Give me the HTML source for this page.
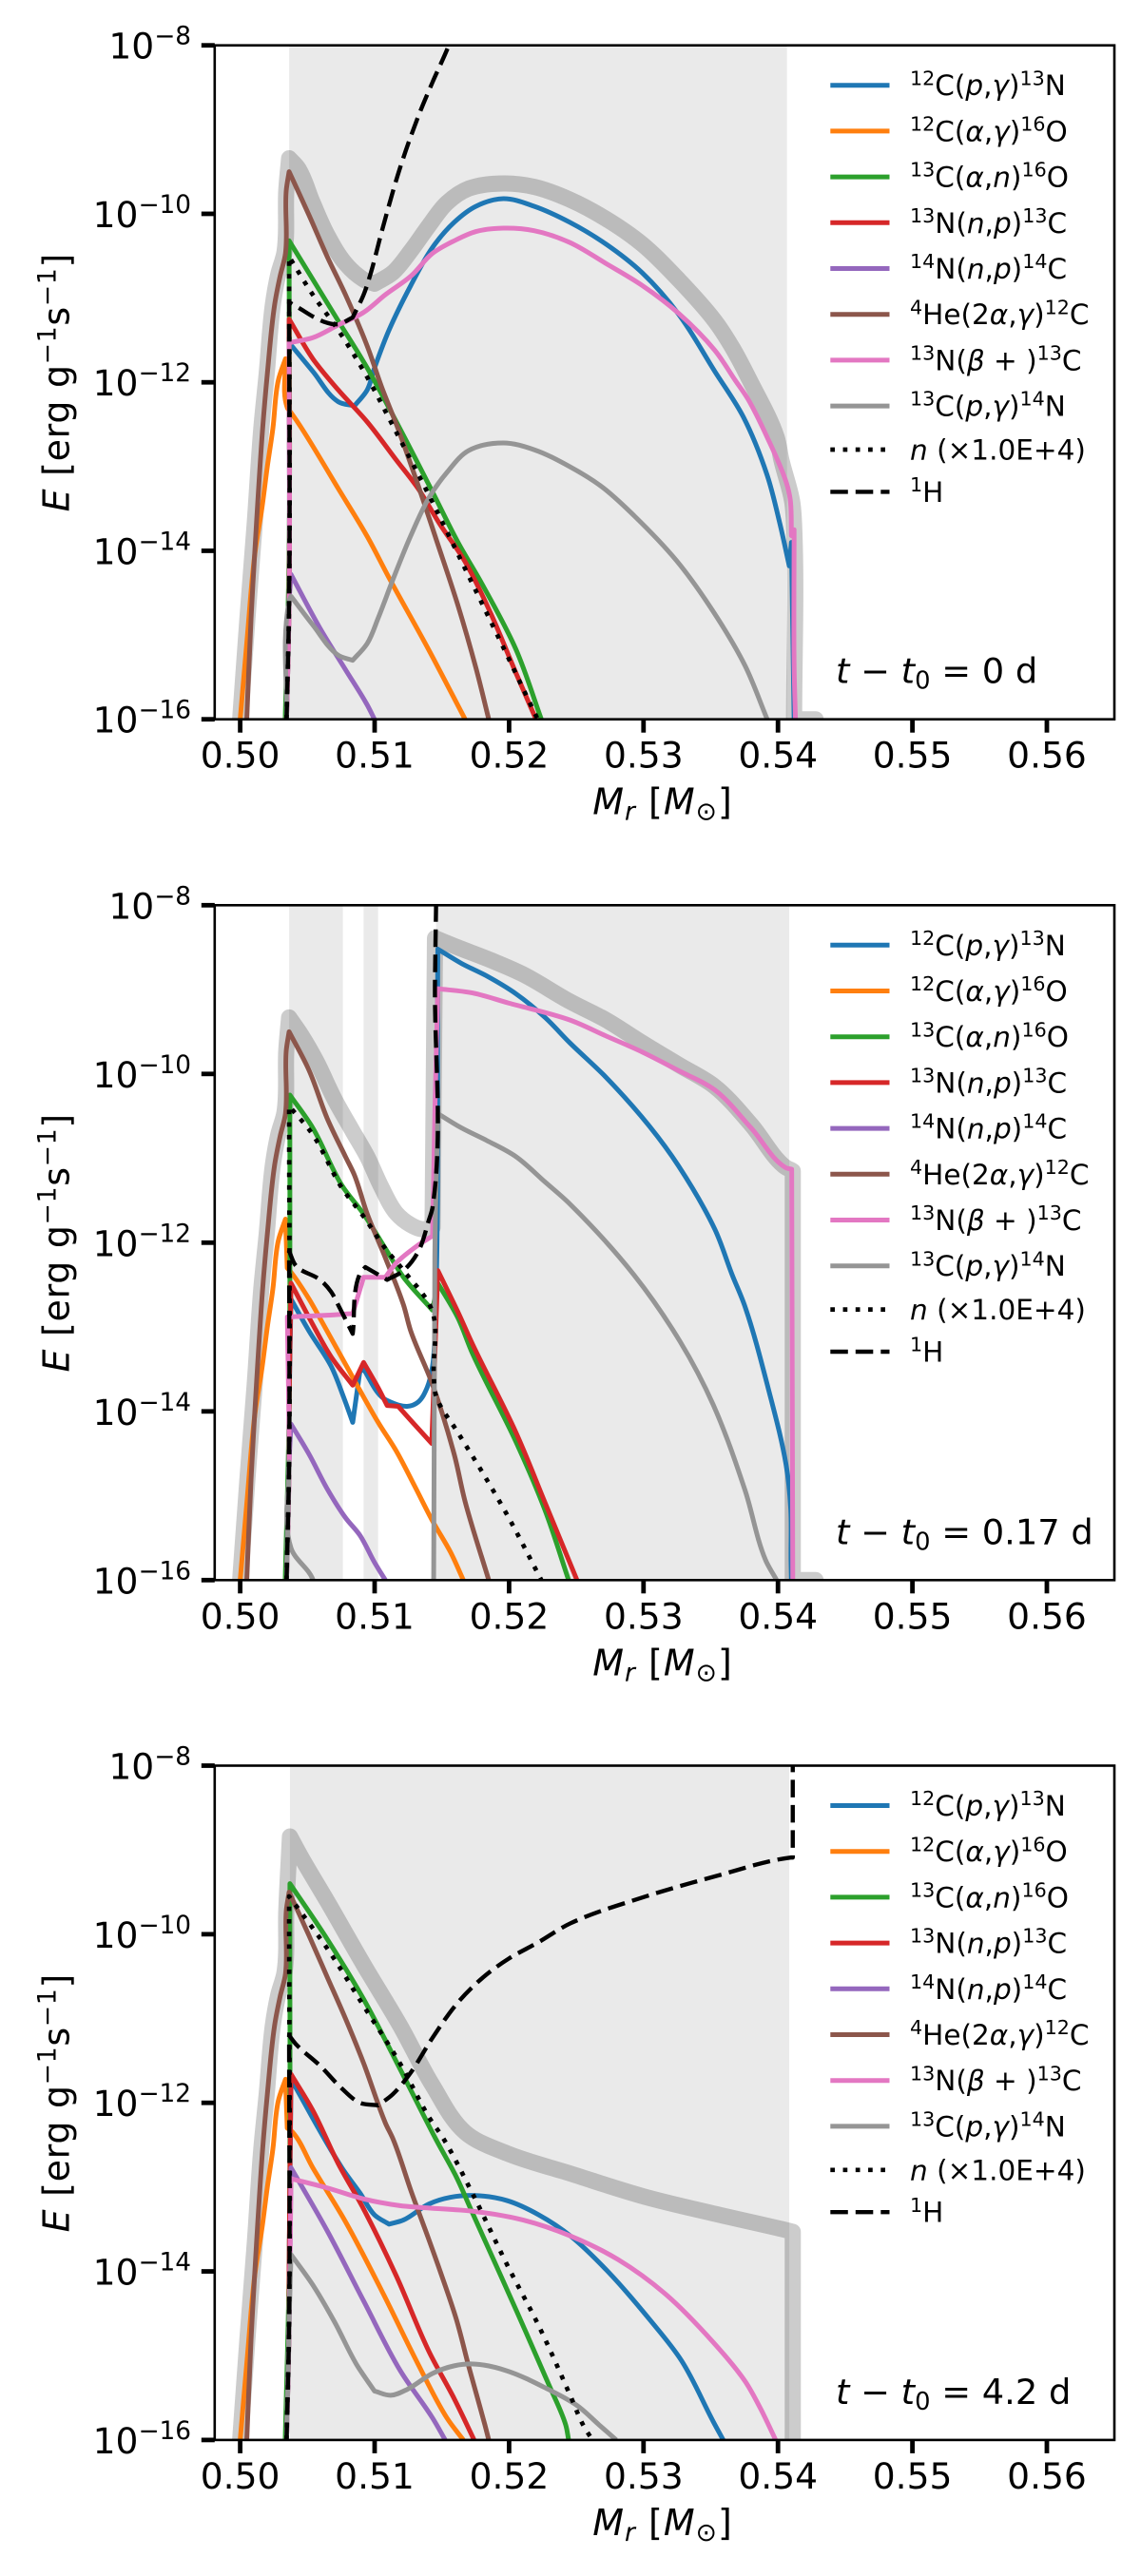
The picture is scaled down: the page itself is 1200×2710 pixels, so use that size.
<!DOCTYPE html>
<html lang="en">
<head>
<meta charset="utf-8">
<title>Nuclear energy generation profiles</title>
<style>
html,body{margin:0;padding:0;background:#fff;width:1200px;height:2710px;overflow:hidden}
svg{display:block}
text{font-family:"DejaVu Sans","Liberation Sans",sans-serif;fill:#000;white-space:pre}
</style>
</head>
<body>
<svg id="figure" xmlns="http://www.w3.org/2000/svg" width="1200" height="2710" viewBox="0 0 1200 2710"></svg>
<script>
// Axis tick values and labels
const massTicks = [0.50, 0.51, 0.52, 0.53, 0.54, 0.55, 0.56];
const massTickLabels = ['0.50', '0.51', '0.52', '0.53', '0.54', '0.55', '0.56'];
const logTicks = [-8, -10, -12, -14, -16];
const logTickLabels = ['\u22128', '\u221210', '\u221212', '\u221214', '\u221216'];
const timeLabels = ['0', '0.17', '4.2'];

// Shared rise on the inner side of the shell: [M_r, log10 E]
const totalRise = [[0.5,-16],[0.50054,-14.8],[0.50108,-13.68],[0.50157,-12.55],[0.50197,-11.9],[0.50243,-11.08],[0.50283,-10.72],[0.5033,-10.45],[0.50343,-9.72]];
const brownRise = [[0.50049,-16],[0.50081,-14.8],[0.50121,-13.68],[0.50167,-12.55],[0.50202,-11.9],[0.50256,-11.08],[0.50297,-10.74],[0.50337,-10.47],[0.50343,-9.72]];
const orangeRise = [[0.5,-16],[0.50054,-15],[0.50108,-14.05],[0.50162,-13.49],[0.50202,-13],[0.50243,-12.55],[0.50283,-11.98],[0.50337,-11.72],[0.5035,-12.3]];
const spikeBase = [[0.50345,-16],[0.50364,-14.6]];

// Panel 1 (t - t0 = 0 d)
const shade1 = [[0.50364,0.54067]];
const total1 = [[0.50364,-9.34],[0.50432,-9.46],[0.5054,-9.87],[0.50648,-10.25],[0.50783,-10.59],[0.50918,-10.78],[0.50999,-10.83],[0.51134,-10.7],[0.51269,-10.44],[0.51404,-10.14],[0.51538,-9.87],[0.517,-9.7],[0.51957,-9.64],[0.52186,-9.68],[0.5245,-9.83],[0.52721,-10.06],[0.5299,-10.36],[0.5326,-10.78],[0.5353,-11.27],[0.53665,-11.6],[0.5379,-11.976],[0.5399,-12.65],[0.54025,-12.92],[0.54105,-13.41],[0.5412,-13.7],[0.5412,-16],[0.5428,-16],[0.5434,-16.6]];
const blue1 = [[0.50364,-11.53],[0.5054,-11.87],[0.50729,-12.23],[0.5085,-12.28],[0.50945,-12.09],[0.50999,-11.83],[0.51107,-11.38],[0.51269,-10.85],[0.5143,-10.4],[0.51592,-10.1],[0.51754,-9.91],[0.51957,-9.82],[0.52186,-9.91],[0.52451,-10.1],[0.52721,-10.36],[0.5299,-10.7],[0.5326,-11.19],[0.5353,-11.87],[0.53742,-12.41],[0.53919,-13.1],[0.54013,-13.67],[0.54084,-14.18],[0.541,-13.9],[0.5412,-16]];
const orange1 = [[0.50378,-12.36],[0.50459,-12.55],[0.50729,-13.26],[0.50945,-13.83],[0.51107,-14.32],[0.51404,-15.18],[0.51673,-16]];
const green1 = [[0.50335,-16],[0.50364,-14],[0.50364,-10.32],[0.50729,-11.27],[0.50945,-11.83],[0.51188,-12.55],[0.5143,-13.3],[0.5162,-13.9],[0.51808,-14.42],[0.52051,-15.17],[0.5224,-16]];
const red1 = [[0.50364,-11.25],[0.5054,-11.72],[0.50729,-12.09],[0.50945,-12.47],[0.5116,-12.92],[0.51323,-13.26],[0.51484,-13.68],[0.51673,-14.13],[0.5186,-14.73],[0.52051,-15.45],[0.522,-16]];
const purple1 = [[0.50378,-14.28],[0.50594,-14.92],[0.50783,-15.41],[0.50945,-15.83],[0.50999,-16]];
const brown1 = [[0.50364,-9.5],[0.50513,-10.02],[0.50648,-10.51],[0.50783,-10.96],[0.50945,-11.57],[0.51053,-12.06],[0.51174,-12.55],[0.51323,-13.22],[0.51457,-13.86],[0.5162,-14.65],[0.51755,-15.4],[0.51849,-16]];
const pink1 = [[0.50364,-11.53],[0.5054,-11.47],[0.50729,-11.32],[0.50918,-11.17],[0.5108,-10.96],[0.51269,-10.74],[0.5143,-10.47],[0.51592,-10.32],[0.51754,-10.21],[0.51957,-10.17],[0.52186,-10.2],[0.52451,-10.34],[0.52721,-10.59],[0.5299,-10.85],[0.5326,-11.18],[0.5353,-11.62],[0.53682,-11.976],[0.53777,-12.2],[0.53919,-12.65],[0.5406,-13.18],[0.54091,-13.39],[0.541,-13.82],[0.5412,-13.75],[0.5412,-15.36],[0.5413,-16]];
const gray1 = [[0.50378,-14.54],[0.5054,-14.88],[0.50729,-15.24],[0.50837,-15.3],[0.50945,-15.1],[0.51026,-14.8],[0.51134,-14.35],[0.51269,-13.82],[0.51404,-13.37],[0.51538,-13.07],[0.517,-12.81],[0.51957,-12.72],[0.52186,-12.8],[0.5245,-13],[0.5269,-13.24],[0.52928,-13.58],[0.53247,-14.12],[0.53518,-14.72],[0.53754,-15.36],[0.5392,-16]];
const neutron1 = [[0.50364,-10.51],[0.5054,-10.96],[0.50729,-11.38],[0.50945,-11.94],[0.51134,-12.51],[0.51404,-13.34],[0.51565,-13.86],[0.51727,-14.39],[0.51943,-15.1],[0.52213,-16]];
const hydrogen1 = [[0.50364,-11.05],[0.50418,-11.1],[0.50621,-11.28],[0.50729,-11.31],[0.50837,-11.23],[0.50918,-10.96],[0.50972,-10.7],[0.51053,-10.21],[0.51188,-9.46],[0.51323,-8.85],[0.5143,-8.44],[0.51552,-8],[0.5162,-7.7]];

// Panel 2 (t - t0 = 0.17 d)
const shade2 = [[0.50364,0.50764],[0.50918,0.51026],[0.51457,0.54084]];
const total2 = [[0.50364,-9.33],[0.50459,-9.55],[0.50567,-9.85],[0.50702,-10.3],[0.50837,-10.68],[0.50945,-10.98],[0.51053,-11.35],[0.51161,-11.65],[0.51269,-11.79],[0.5135,-11.84],[0.51431,-11.82],[0.51449,-8.39],[0.51619,-8.5],[0.51862,-8.65],[0.52105,-8.82],[0.52451,-9.14],[0.52721,-9.36],[0.5299,-9.63],[0.5326,-9.89],[0.5353,-10.15],[0.538,-10.6],[0.54043,-11.09],[0.5411,-11.15],[0.5411,-16],[0.5428,-16],[0.5434,-16.6]];
const blue2 = [[0.50364,-14],[0.50378,-12.67],[0.50513,-13.05],[0.50675,-13.46],[0.50769,-13.83],[0.50837,-14.13],[0.5089,-13.53],[0.50918,-13.5],[0.51053,-13.83],[0.5112,-13.89],[0.51242,-13.94],[0.51323,-13.89],[0.5139,-13.72],[0.51431,-13.46],[0.51449,-13],[0.5147,-8.52],[0.51646,-8.69],[0.51835,-8.84],[0.52051,-9.05],[0.52267,-9.33],[0.52451,-9.63],[0.52721,-10.04],[0.53044,-10.62],[0.5326,-11.09],[0.5353,-11.84],[0.53659,-12.38],[0.53753,-12.75],[0.53928,-13.73],[0.5406,-14.63],[0.54095,-15.16],[0.54097,-15.76],[0.541,-16]];
const orange2 = [[0.50378,-12.35],[0.50513,-12.67],[0.50567,-12.82],[0.50783,-13.44],[0.51026,-14.13],[0.51161,-14.47],[0.51296,-14.88],[0.51431,-15.3],[0.51565,-15.67],[0.5166,-16]];
const green2 = [[0.50335,-16],[0.50364,-14],[0.5037,-10.25],[0.5054,-10.64],[0.50756,-11.32],[0.50918,-11.66],[0.5108,-12.07],[0.51215,-12.41],[0.5143,-12.8],[0.5147,-12.48],[0.51619,-12.89],[0.51727,-13.31],[0.52051,-14.36],[0.52267,-15.17],[0.52443,-16]];
const red2 = [[0.50364,-14],[0.50378,-12.48],[0.5054,-12.97],[0.50675,-13.35],[0.50837,-13.69],[0.50918,-13.42],[0.51026,-13.72],[0.51093,-13.93],[0.51175,-13.94],[0.51282,-14.13],[0.51425,-14.38],[0.5147,-12.33],[0.51619,-12.82],[0.51727,-13.2],[0.52051,-14.25],[0.52267,-15.08],[0.52451,-15.79],[0.52505,-16]];
const purple2 = [[0.50378,-14.15],[0.50513,-14.51],[0.50648,-14.92],[0.50783,-15.26],[0.50891,-15.47],[0.50999,-15.79],[0.5108,-16]];
const brown2 = [[0.50364,-9.5],[0.50513,-9.96],[0.50648,-10.53],[0.50783,-10.98],[0.5085,-11.2],[0.50945,-11.66],[0.5108,-12.18],[0.51215,-12.74],[0.51269,-13.05],[0.5143,-13.68],[0.51592,-14.51],[0.51673,-15.07],[0.51849,-16]];
const pink2 = [[0.50351,-12.88],[0.50648,-12.86],[0.50837,-12.84],[0.50918,-12.41],[0.5108,-12.41],[0.51161,-12.24],[0.51323,-12.03],[0.51431,-11.92],[0.51449,-10.38],[0.5147,-8.99],[0.51727,-9.04],[0.51997,-9.16],[0.52451,-9.36],[0.52721,-9.55],[0.5299,-9.74],[0.5326,-9.96],[0.5353,-10.19],[0.538,-10.64],[0.54056,-11.11],[0.54102,-11.13],[0.5411,-16]];
const gray2 = [[0.50378,-15.62],[0.5054,-15.99],[0.5055,-16.1],[0.5143,-17],[0.51439,-16],[0.51449,-12],[0.5147,-10.47],[0.51646,-10.64],[0.51835,-10.79],[0.52051,-10.98],[0.52267,-11.28],[0.52451,-11.54],[0.52928,-12.38],[0.53271,-13.17],[0.53518,-13.92],[0.53754,-14.93],[0.53907,-15.76],[0.5399,-16]];
const neutron2 = [[0.50364,-10.38],[0.5054,-10.72],[0.50756,-11.35],[0.50918,-11.69],[0.5108,-12.07],[0.51215,-12.33],[0.5143,-12.82],[0.5144,-13.57],[0.51457,-13.82],[0.51619,-14.25],[0.51808,-14.74],[0.51997,-15.26],[0.5224,-16]];
const hydrogen2 = [[0.50364,-12.1],[0.50418,-12.28],[0.50594,-12.44],[0.50675,-12.58],[0.50742,-12.78],[0.50837,-13.08],[0.5089,-12.37],[0.50931,-12.29],[0.51093,-12.44],[0.51215,-12.33],[0.51323,-12.11],[0.51404,-11.73],[0.51431,-11.58],[0.51449,-8.88],[0.51457,-8]];

// Panel 3 (t - t0 = 4.2 d)
const shade3 = [[0.5037,0.54084]];
const total3 = [[0.5037,-8.84],[0.50459,-9.1],[0.50648,-9.61],[0.50918,-10.36],[0.51188,-11.08],[0.5143,-11.79],[0.51673,-12.35],[0.51985,-12.6],[0.52457,-12.84],[0.53,-13.11],[0.5354,-13.32],[0.5406,-13.51],[0.5411,-13.53],[0.5411,-16.6]];
const blue3 = [[0.50364,-14],[0.50378,-11.72],[0.50756,-12.77],[0.50891,-13.07],[0.50999,-13.33],[0.51107,-13.44],[0.51215,-13.39],[0.51404,-13.2],[0.51565,-13.12],[0.5175,-13.1],[0.51985,-13.16],[0.52222,-13.33],[0.52457,-13.58],[0.5274,-14.01],[0.53045,-14.57],[0.53283,-15.06],[0.53518,-15.78],[0.53593,-16]];
const orange3 = [[0.50391,-12.35],[0.5054,-12.77],[0.50783,-13.41],[0.51053,-14.23],[0.51323,-15.1],[0.51538,-15.74],[0.5166,-16]];
const green3 = [[0.50335,-16],[0.50364,-14],[0.5037,-9.4],[0.50648,-10.06],[0.50918,-10.77],[0.51215,-11.68],[0.51455,-12.43],[0.51608,-12.88],[0.51726,-13.3],[0.51938,-14.05],[0.52125,-14.72],[0.52292,-15.33],[0.52421,-15.82],[0.52443,-16]];
const red3 = [[0.50364,-14],[0.50378,-11.66],[0.5054,-12.09],[0.50729,-12.72],[0.50918,-13.26],[0.5116,-14.05],[0.51404,-14.95],[0.51592,-15.51],[0.5174,-16]];
const purple3 = [[0.50378,-12.77],[0.50648,-13.52],[0.50918,-14.35],[0.51188,-15.17],[0.51431,-15.74],[0.51525,-16]];
const brown3 = [[0.50364,-9.5],[0.50513,-10.02],[0.50648,-10.51],[0.50783,-11],[0.50918,-11.53],[0.5108,-12.24],[0.51137,-12.43],[0.51276,-13.07],[0.51396,-13.59],[0.5149,-14.01],[0.51608,-14.57],[0.51702,-15.14],[0.5182,-15.82],[0.51849,-16]];
const pink3 = [[0.50378,-12.9],[0.50648,-13.01],[0.50918,-13.14],[0.51188,-13.22],[0.51326,-13.24],[0.5175,-13.29],[0.52103,-13.39],[0.52457,-13.58],[0.52811,-13.86],[0.53164,-14.27],[0.53518,-14.84],[0.53754,-15.3],[0.53871,-15.63],[0.54012,-16.1]];
const gray3 = [[0.50378,-13.8],[0.5054,-14.16],[0.50702,-14.6],[0.50864,-15.1],[0.50999,-15.42],[0.5112,-15.47],[0.51242,-15.4],[0.51431,-15.21],[0.51592,-15.12],[0.5175,-15.1],[0.51985,-15.18],[0.52292,-15.4],[0.52505,-15.59],[0.52669,-15.82],[0.52797,-16]];
const neutron3 = [[0.50364,-9.55],[0.50648,-10.17],[0.50918,-10.85],[0.51188,-11.53],[0.51404,-12.17],[0.51514,-12.43],[0.51726,-13.07],[0.51985,-13.92],[0.52222,-14.65],[0.52457,-15.48],[0.5255,-15.82],[0.5262,-16]];
const hydrogen3 = [[0.50364,-11.2],[0.50418,-11.31],[0.50594,-11.56],[0.50756,-11.83],[0.50891,-12],[0.51026,-12.03],[0.51134,-11.9],[0.51269,-11.64],[0.5143,-11.23],[0.51619,-10.81],[0.51808,-10.51],[0.51997,-10.29],[0.52213,-10.1],[0.52457,-9.87],[0.53,-9.56],[0.5354,-9.31],[0.54094,-9.09],[0.5411,-9.09],[0.5411,-8]];

// Legend labels: ^ superscript, / italic, plain otherwise
const legendBlue = ['^12', 'C(', '/p', ',', '/\u03b3', ')', '^13', 'N'];
const legendOrange = ['^12', 'C(', '/\u03b1', ',', '/\u03b3', ')', '^16', 'O'];
const legendGreen = ['^13', 'C(', '/\u03b1', ',', '/n', ')', '^16', 'O'];
const legendRed = ['^13', 'N(', '/n', ',', '/p', ')', '^13', 'C'];
const legendPurple = ['^14', 'N(', '/n', ',', '/p', ')', '^14', 'C'];
const legendBrown = ['^4', 'He(2', '/\u03b1', ',', '/\u03b3', ')', '^12', 'C'];
const legendPink = ['^13', 'N(', '/\u03b2', ' + )', '^13', 'C'];
const legendGray = ['^13', 'C(', '/p', ',', '/\u03b3', ')', '^14', 'N'];
const legendNeutron = ['/n', ' (\u00d71.0E+4)'];
const legendHydrogen = ['^1', 'H'];

const NS = 'http://www.w3.org/2000/svg';
const figure = document.getElementById('figure');
const LEFT = 225.8, RIGHT = 1172, MASS0 = 252.6, MASS_SCALE = 14140;
const TICK_FONT = 37.6, TITLE_FONT = 38, NOTE_FONT = 36.8, LEGEND_FONT = 29.5;
const xScale = m => MASS0 + (m - 0.5) * MASS_SCALE;

const styles = [
  {key:'blue', name:'c12-p-gamma-line', legend:legendBlue, color:'#1f77b4', width:5},
  {key:'orange', name:'c12-alpha-gamma-line', legend:legendOrange, color:'#ff7f0e', width:5},
  {key:'green', name:'c13-alpha-n-line', legend:legendGreen, color:'#2ca02c', width:5},
  {key:'red', name:'n13-n-p-line', legend:legendRed, color:'#d62728', width:5},
  {key:'purple', name:'n14-n-p-line', legend:legendPurple, color:'#9467bd', width:5},
  {key:'brown', name:'he4-triple-alpha-line', legend:legendBrown, color:'#8c564b', width:5},
  {key:'pink', name:'n13-beta-line', legend:legendPink, color:'#e377c2', width:5},
  {key:'gray', name:'c13-p-gamma-line', legend:legendGray, color:'#959595', width:5},
  {key:'neutron', name:'neutron-abundance-line', legend:legendNeutron, color:'#000', dash:'4.7 8.55', width:4.7},
  {key:'hydrogen', name:'hydrogen-abundance-line', legend:legendHydrogen, color:'#000', dash:'18.5 8', width:4.4}
];

const panelData = [
  {top:47.7, bottom:756.7, shade:shade1, total:total1, blue:blue1, orange:orange1, green:green1, red:red1, purple:purple1, brown:brown1, pink:pink1, gray:gray1, neutron:neutron1, hydrogen:hydrogen1},
  {top:952.3, bottom:1662.3, shade:shade2, total:total2, blue:blue2, orange:orange2, green:green2, red:red2, purple:purple2, brown:brown2, pink:pink2, gray:gray2, neutron:neutron2, hydrogen:hydrogen2},
  {top:1857.5, bottom:2566.9, shade:shade3, total:total3, blue:blue3, orange:orange3, green:green3, red:red3, purple:purple3, brown:brown3, pink:pink3, gray:gray3, neutron:neutron3, hydrogen:hydrogen3}
];

function make(tag, attrs, parent) {
  const el = document.createElementNS(NS, tag);
  for (const k in attrs) el.setAttribute(k, attrs[k]);
  parent.appendChild(el);
  return el;
}

function addSpan(textEl, str, size, dy, italic) {
  const t = make('tspan', {'font-size': size}, textEl);
  if (dy) t.setAttribute('dy', dy);
  if (italic) t.setAttribute('font-style', 'italic');
  t.textContent = str;
  return t;
}

function writeTokens(textEl, tokens, size) {
  const raise = size * 0.37;
  let shifted = false;
  tokens.forEach(tok => {
    if (tok[0] === '^') {
      addSpan(textEl, tok.slice(1), size * 0.7, -raise, false);
      shifted = true;
    } else {
      const italic = tok[0] === '/';
      addSpan(textEl, italic ? tok.slice(1) : tok, size, shifted ? raise : 0, italic);
      shifted = false;
    }
  });
}

function unit(dx, dy) {
  const n = Math.hypot(dx, dy) || 1;
  return [dx / n, dy / n];
}

// Draws a curve through the data points, keeping sharp turns as corners.
function pathOf(points, yScale) {
  const pts = points.map(p => [xScale(p[0]), yScale(p[1])]);
  const dirs = [];
  for (let i = 0; i < pts.length - 1; i++) dirs.push(unit(pts[i + 1][0] - pts[i][0], pts[i + 1][1] - pts[i][1]));
  let d = 'M' + pts[0][0].toFixed(2) + ' ' + pts[0][1].toFixed(2);
  const tangentAt = (i, seg) => {
    if (i === 0 || i === pts.length - 1) return dirs[seg];
    const a = dirs[i - 1], b = dirs[i];
    if (a[0] * b[0] + a[1] * b[1] < 0.78) return dirs[seg];
    return unit(a[0] + b[0], a[1] + b[1]);
  };
  for (let i = 0; i < pts.length - 1; i++) {
    const L = Math.hypot(pts[i + 1][0] - pts[i][0], pts[i + 1][1] - pts[i][1]) / 3;
    const t0 = tangentAt(i, i), t1 = tangentAt(i + 1, i);
    d += 'C' + (pts[i][0] + t0[0] * L).toFixed(2) + ' ' + (pts[i][1] + t0[1] * L).toFixed(2) + ' ' +
      (pts[i + 1][0] - t1[0] * L).toFixed(2) + ' ' + (pts[i + 1][1] - t1[1] * L).toFixed(2) + ' ' +
      pts[i + 1][0].toFixed(2) + ' ' + pts[i + 1][1].toFixed(2);
  }
  return d;
}

panelData.forEach((panel, idx) => {
  const yScale = v => panel.top + (-8 - v) * (panel.bottom - panel.top) / 8;
  const g = make('g', {}, figure);
  
  

  const clip = make('clipPath', {id: 'clip' + idx}, g);
  make('rect', {x: LEFT, y: panel.top, width: RIGHT - LEFT, height: panel.bottom - panel.top}, clip);
  const plot = make('g', {'clip-path': 'url(#clip' + idx + ')'}, g);
  
  

  panel.shade.forEach(span => {
    const rect = make('rect', {x: xScale(span[0]), y: panel.top, width: xScale(span[1]) - xScale(span[0]), height: panel.bottom - panel.top, fill: '#eaeaea'}, plot);
    
    
  });

  const totalPath = make('path', {d: pathOf(totalRise.concat(panel.total), yScale), fill: 'none', stroke: '#000', 'stroke-opacity': 0.2, 'stroke-width': 17, 'stroke-linejoin': 'round'}, plot);
  
  

  styles.forEach(s => {
    let points = panel[s.key];
    if (s.key === 'brown') points = brownRise.concat(points);
    else if (s.key === 'orange') points = orangeRise.concat(points);
    else if (s.key !== 'green') points = spikeBase.concat(points);
    const attrs = {d: pathOf(points, yScale), fill: 'none', stroke: s.color, 'stroke-width': s.width, 'stroke-linejoin': 'round'};
    if (s.dash) attrs['stroke-dasharray'] = s.dash;
    const line = make('path', attrs, plot);
    
    
  });

  const frame = make('rect', {x: LEFT, y: panel.top, width: RIGHT - LEFT, height: panel.bottom - panel.top, fill: 'none', stroke: '#000', 'stroke-width': 2.6}, g);
  
  

  massTicks.forEach((m, i) => {
    const x = xScale(m);
    const tick = make('line', {x1: x, x2: x, y1: panel.bottom, y2: panel.bottom + 14, stroke: '#000', 'stroke-width': 4.8}, g);
    
    
    const label = make('text', {x: x, y: panel.bottom + 51, 'text-anchor': 'middle', 'font-size': TICK_FONT}, g);
    
    
    label.textContent = massTickLabels[i];
  });

  logTicks.forEach((v, i) => {
    const y = yScale(v);
    const tick = make('line', {x1: LEFT - 14, x2: LEFT, y1: y, y2: y, stroke: '#000', 'stroke-width': 4.8}, g);
    
    
    const label = make('text', {x: 201, y: y + 14, 'text-anchor': 'end', 'font-size': TICK_FONT}, g);
    
    
    addSpan(label, '10', TICK_FONT, 0, false);
    addSpan(label, logTickLabels[i], TICK_FONT * 0.7, -15, false);
  });

  const cy = (panel.top + panel.bottom) / 2;
  const yTitle = make('text', {transform: 'translate(72.7 ' + cy + ') rotate(-90)', 'text-anchor': 'middle', 'font-size': TITLE_FONT, 'letter-spacing': 0.7}, g);
  
  
  writeTokens(yTitle, ['/E', ' [erg g', '^\u22121', 's', '^\u22121', ']'], TITLE_FONT);

  const xTitle = make('text', {x: 697, y: panel.bottom + 100, 'text-anchor': 'middle', 'font-size': TITLE_FONT, 'letter-spacing': 1}, g);
  
  
  addSpan(xTitle, 'M', TITLE_FONT, 0, true);
  addSpan(xTitle, 'r', TITLE_FONT * 0.7, 6, true);
  addSpan(xTitle, ' [', TITLE_FONT, -6, false);
  addSpan(xTitle, 'M', TITLE_FONT, 0, true);
  addSpan(xTitle, '\u2299', TITLE_FONT * 0.7, 6, false);
  addSpan(xTitle, ']', TITLE_FONT, -6, false);

  const note = make('text', {x: 879, y: panel.bottom - 38, 'font-size': NOTE_FONT}, g);
  
  
  addSpan(note, 't', NOTE_FONT, 0, true);
  addSpan(note, ' \u2212 ', NOTE_FONT, 0, false);
  addSpan(note, 't', NOTE_FONT, 0, true);
  addSpan(note, '0', NOTE_FONT * 0.7, 6, false);
  addSpan(note, ' = ' + timeLabels[idx] + ' d', NOTE_FONT, -6, false);

  const legend = make('g', {}, g);
  
  
  styles.forEach((s, i) => {
    let offset = 42 + i * 48.2;
    if (i === 8) offset = 425.3;
    if (i === 9) offset = 469.7;
    const y = panel.top + offset;
    const entry = make('g', {}, legend);
    
    
    const attrs = {x1: 873.3, x2: 935.5, y1: y, y2: y, stroke: s.color, 'stroke-width': s.width};
    if (s.dash) attrs['stroke-dasharray'] = s.dash;
    const swatch = make('line', attrs, entry);
    
    
    const label = make('text', {x: 957, y: y + 10.5, 'font-size': LEGEND_FONT}, entry);
    
    
    writeTokens(label, s.legend, LEGEND_FONT);
  });
});
</script>
</body>
</html>
